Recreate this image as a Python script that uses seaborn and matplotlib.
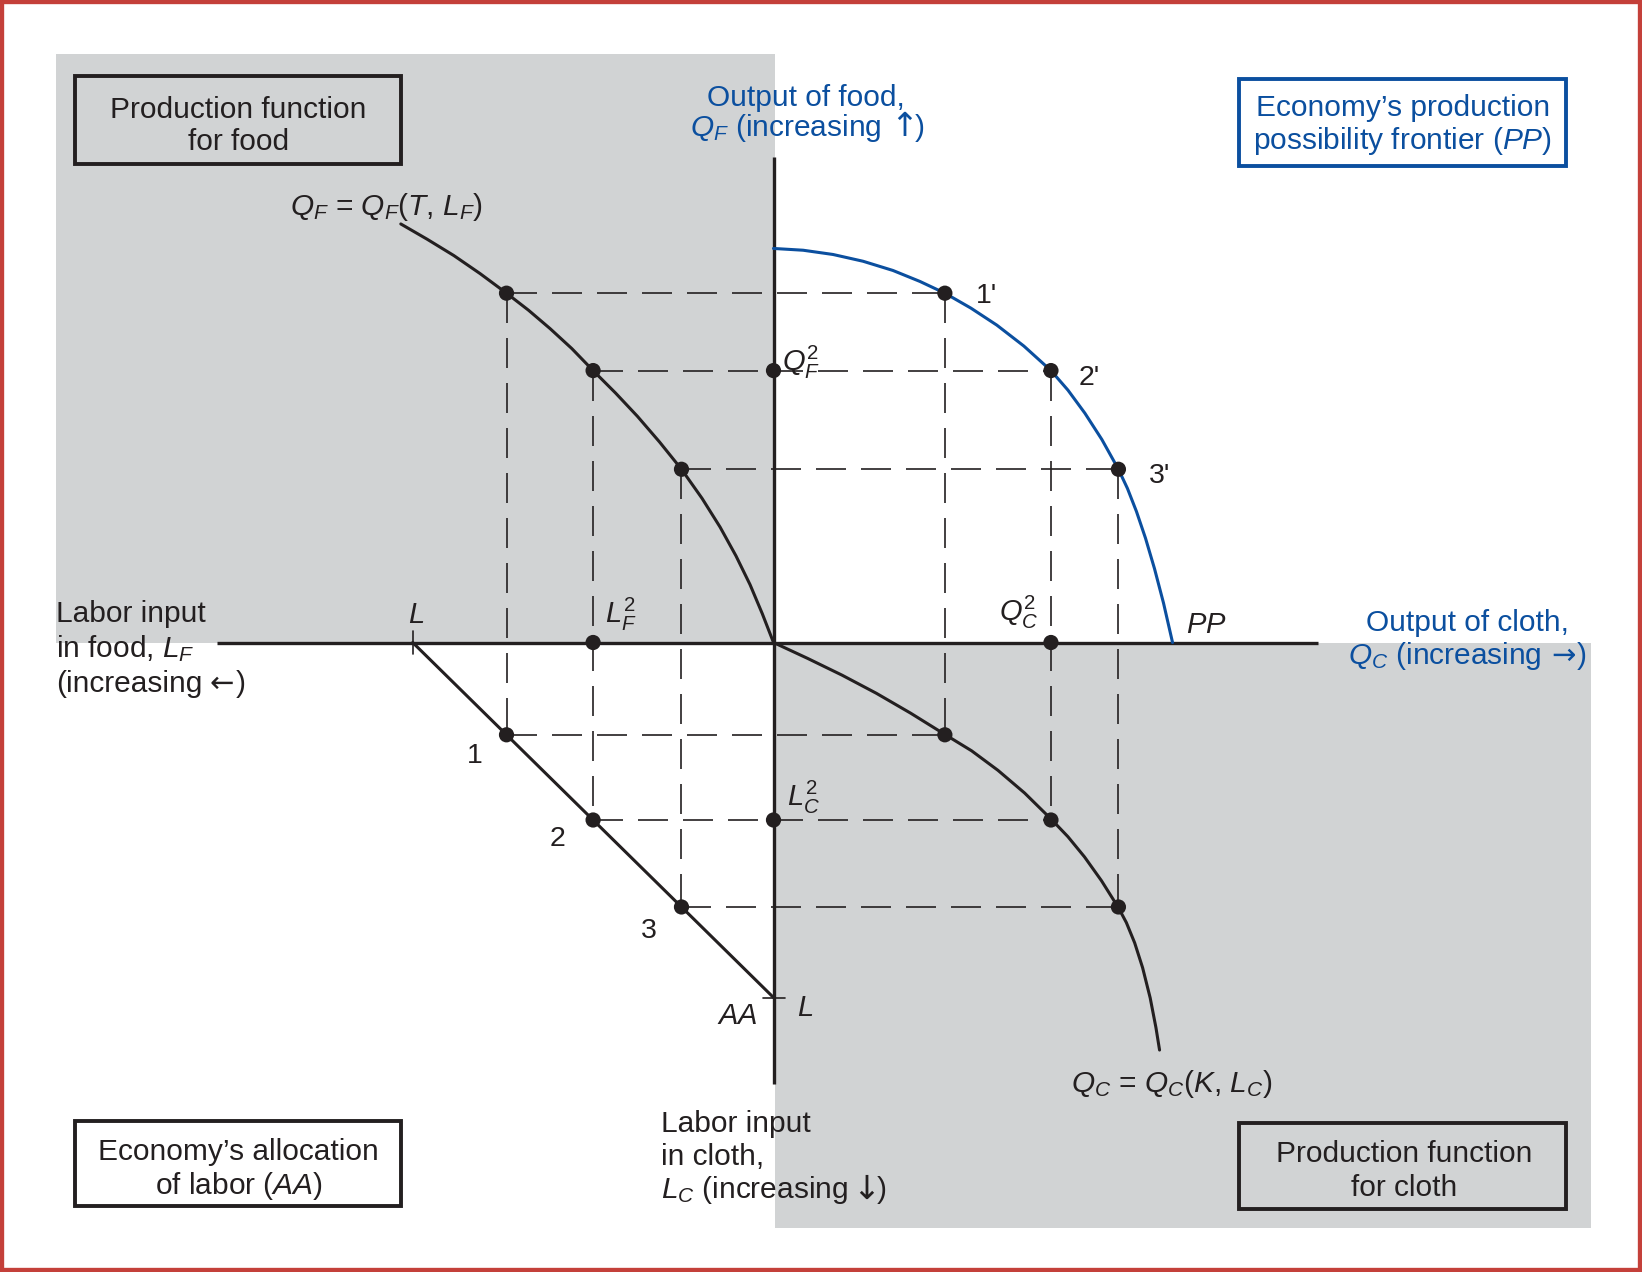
import numpy as np
import pandas as pd
import matplotlib
matplotlib.use("Agg")
import matplotlib.pyplot as plt
from matplotlib.patches import Rectangle
import seaborn as sns

sns.set_style("white")
plt.rcParams['font.family'] = ['Liberation Sans', 'DejaVu Sans']
plt.rcParams['mathtext.fontset'] = 'custom'
plt.rcParams['mathtext.rm'] = 'Liberation Sans'
plt.rcParams['mathtext.it'] = 'Liberation Sans:italic'
plt.rcParams['mathtext.bf'] = 'Liberation Sans:bold'

BLACK = '#231f20'
BLUE = '#0b4f9f'
GRAY = '#d1d3d4'
RED = '#c4403a'

# --- data ---
# three allocations of labour: points 1, 2, 3
labor_total = 10.0
labor_food = np.array([7.40, 5.00, 2.55])
labor_cloth = labor_total - labor_food
food_output = np.array([9.84, 7.66, 4.88])
cloth_output = np.array([4.75, 7.69, 9.56])

# production function for food (labour in food, output of food)
food_curve_labor = [10.33, 9.60, 8.86, 8.13, 7.40, 6.79, 6.19, 5.59, 5.00, 4.38, 3.77,
                    3.16, 2.55, 1.98, 1.48, 1.04, 0.65, 0.31, 0.0]
food_curve_output = [11.79, 11.36, 10.90, 10.39, 9.84, 9.36, 8.84, 8.28, 7.66, 7.03, 6.37,
                     5.65, 4.88, 4.06, 3.25, 2.44, 1.63, 0.81, 0.0]

# production function for cloth (output of cloth, labour in cloth)
cloth_curve_output = [0.0, 0.95, 1.90, 2.85, 3.80, 4.75, 5.49, 6.22, 6.96, 7.69, 8.16,
                      8.62, 9.09, 9.56, 9.78, 10.01, 10.23, 10.44, 10.60, 10.70]
cloth_curve_labor = [0.0, 0.45, 0.92, 1.43, 1.99, 2.59, 3.05, 3.60, 4.24, 4.97, 5.47,
                     6.04, 6.71, 7.47, 7.89, 8.46, 9.16, 10.01, 10.85, 11.48]

# production possibility frontier (cloth, food)
pp_cloth = [0.0, 0.82, 1.65, 2.48, 3.31, 4.06, 4.75, 5.47, 6.19, 6.94, 7.69, 8.16, 8.63,
            9.10, 9.56, 9.81, 10.06, 10.31, 10.56, 10.81, 11.06]
pp_food = [11.10, 11.05, 10.93, 10.74, 10.48, 10.17, 9.84, 9.42, 8.94, 8.35, 7.66, 7.11,
           6.46, 5.72, 4.88, 4.34, 3.69, 2.94, 2.08, 1.11, 0.0]

# ends of the four axes
axis_left, axis_right = -15.43, 15.09
axis_top, axis_bottom = 13.68, -12.44

# --- layout helpers: picture pixels -> data units ---
ORIGIN_X, ORIGIN_Y = 773.5, 642.5
SX, SY = 36.08, 35.5
W, H = 1642, 1272


def px(x, y):
    return (x - ORIGIN_X) / SX, (ORIGIN_Y - y) / SY


fig = plt.figure(figsize=(W / 100, H / 100), dpi=100)
ax = fig.add_axes([0, 0, 1, 1])
ax.set_xlim(px(0, 0)[0], px(W, 0)[0])
ax.set_ylim(px(0, H)[1], px(0, 0)[1])


def block(x0, y0, x1, y1, face, edge='none', lw=0, z=0):
    ax.add_patch(Rectangle(px(x0, y1), (x1 - x0) / SX, (y1 - y0) / SY,
                           facecolor=face, edgecolor=edge, linewidth=lw, zorder=z))


# grey quadrants
block(56, 54, 775, 643, GRAY)
block(775, 643, 1590.5, 1228, GRAY)

# dashed guide rectangles for each allocation
for lf, lc, qf, qc in zip(labor_food, labor_cloth, food_output, cloth_output):
    kw = dict(color=BLACK, lw=1.2, dashes=(18, 9), zorder=2)
    ax.plot([-lf, qc], [qf, qf], **kw)
    ax.plot([-lf, -lf], [qf, -lc], **kw)
    ax.plot([-lf, qc], [-lc, -lc], **kw)
    ax.plot([qc, qc], [qf, -lc], **kw)

# axes
ax.plot([axis_left, axis_right], [0, 0], color=BLACK, lw=2.4, zorder=3, solid_capstyle='butt')
ax.plot([0, 0], [axis_bottom, axis_top], color=BLACK, lw=2.4, zorder=3, solid_capstyle='butt')
ax.plot([-labor_total, -labor_total], [0.33, -0.31], color=BLACK, lw=1.2, zorder=3)
ax.plot([-0.29, 0.32], [-labor_total, -labor_total], color=BLACK, lw=1.2, zorder=3)

# curves
food_df = pd.DataFrame({'x': -np.array(food_curve_labor), 'y': food_curve_output})
cloth_df = pd.DataFrame({'x': cloth_curve_output, 'y': -np.array(cloth_curve_labor)})
pp_df = pd.DataFrame({'x': pp_cloth, 'y': pp_food})
aa_df = pd.DataFrame({'x': [-labor_total, 0.0], 'y': [0.0, -labor_total]})

line_kw = dict(sort=False, estimator=None, linewidth=2.2, ax=ax, zorder=4)
sns.lineplot(data=food_df, x='x', y='y', color=BLACK, **line_kw)
sns.lineplot(data=cloth_df, x='x', y='y', color=BLACK, **line_kw)
sns.lineplot(data=pp_df, x='x', y='y', color=BLUE, **line_kw)
sns.lineplot(data=aa_df, x='x', y='y', color=BLACK, **line_kw)

# dots
dots_x = np.concatenate([-labor_food, cloth_output, cloth_output, -labor_food,
                         [0.0, -labor_food[1], cloth_output[1], 0.0]])
dots_y = np.concatenate([food_output, food_output, -labor_cloth, -labor_cloth,
                         [food_output[1], 0.0, 0.0, -labor_cloth[1]]])
sns.scatterplot(x=dots_x, y=dots_y, s=120, color=BLACK, edgecolor='none', ax=ax, zorder=6)

# boxes
block(75.4, 76.4, 401, 164.4, 'none', BLACK, 2.8, 5)
block(1239, 78.5, 1565.6, 165.5, 'white', BLUE, 2.8, 5)
block(75.4, 1120.5, 401, 1206.4, 'white', BLACK, 2.8, 5)
block(1239, 1122.6, 1565.6, 1208.5, 'none', BLACK, 2.8, 5)

FS = 21.5


def text(x, y, s, color=BLACK, ha='center', va='baseline', size=FS, family=None):
    kw = {} if family is None else {'family': family}
    return ax.text(*px(x, y), s, color=color, ha=ha, va=va, fontsize=size, zorder=7, **kw)


def chain(x, y, parts, color=BLACK, center=False):
    # parts: (string, family, size, gap before in px), laid out left to right on one baseline
    renderer = fig.canvas.get_renderer()
    items = []
    for s, fam, size, gap in parts:
        t = text(0, y, s, color=color, ha='left', size=size, family=fam)
        items.append((t, t.get_window_extent(renderer).width, gap))
    total = sum(w + g for _, w, g in items)
    cur = x - total / 2 if center else x
    for t, w, g in items:
        cur += g
        t.set_position(px(cur, y))
        cur += w


LIB = ['Liberation Sans', 'DejaVu Sans']
DEJ = ['DejaVu Sans']

# box texts
text(238.5, 117.5, "Production function")
text(238.5, 150, "for food")
text(1403, 116.5, "Economy\u2019s production", color=BLUE)
text(1403, 149, "possibility frontier ($PP$)", color=BLUE)
text(238.5, 1159.5, "Economy\u2019s allocation")
text(238.5, 1193.5, "of labor ($AA$)")
text(1404, 1161.5, "Production function")
text(1404, 1196, "for cloth")

# axis titles
text(806, 106, "Output of food,", color=BLUE)
chain(807.5, 136.5, [("$Q_F$ (increasing", LIB, FS, 0), ("\u2191", DEJ, 24, 8), (")", LIB, FS, -3)],
      color=BLUE, center=True)
text(1467, 631, "Output of cloth,", color=BLUE)
chain(1467.5, 664, [("$Q_C$ (increasing", LIB, FS, 0), ("\u2192", DEJ, 21, 10), (")", LIB, FS, 1.5)],
      color=BLUE, center=True)
text(56, 621.5, "Labor input", ha='left')
text(56, 657.5, "in food, $L_F$", ha='left')
chain(56, 692, [("(increasing", LIB, FS, 0), ("\u2190", DEJ, 21, 7), (")", LIB, FS, 2)])
text(661, 1131.5, "Labor input", ha='left')
text(661, 1165, "in cloth,", ha='left')
chain(661, 1198.5, [("$L_C$ (increasing", LIB, FS, 0), ("\u2193", DEJ, 24, 4), (")", LIB, FS, -3)])

# curve names
text(386, 215, "$Q_F$ = $Q_F$($T$, $L_F$)")
text(1172, 1092, "$Q_C$ = $Q_C$($K$, $L_C$)")

# point labels
text(986, 303, "1'", size=20.5)
text(1089, 385, "2'", size=20.5)
text(1160, 483, "3'", size=20.5)
text(474.5, 763, "1", size=20.5)
text(557, 846, "2", size=20.5)
text(649, 937.5, "3", size=20.5)
text(737.5, 1024, "$AA$", size=21)
text(805, 1016, "$L$", size=21)
text(416, 623, "$L$", size=21)
text(1186, 633, "$PP$", ha='left', size=21)
text(605, 623, "$L_F^2$", ha='left', size=21)
text(782, 371, "$Q_F^2$", ha='left', size=21)
text(787, 806.5, "$L_C^2$", ha='left', size=21)
text(999, 621, "$Q_C^2$", ha='left', size=21)

# red frame around the picture
ax.add_patch(Rectangle((0, 0), 1, 1, transform=ax.transAxes, facecolor='none',
                       edgecolor=RED, linewidth=6, clip_on=False, zorder=10))

ax.set_xlim(px(0, 0)[0], px(W, 0)[0])
ax.set_ylim(px(0, H)[1], px(0, 0)[1])
ax.axis('off')

fig.savefig('out.png', dpi=100)
plt.close(fig)
